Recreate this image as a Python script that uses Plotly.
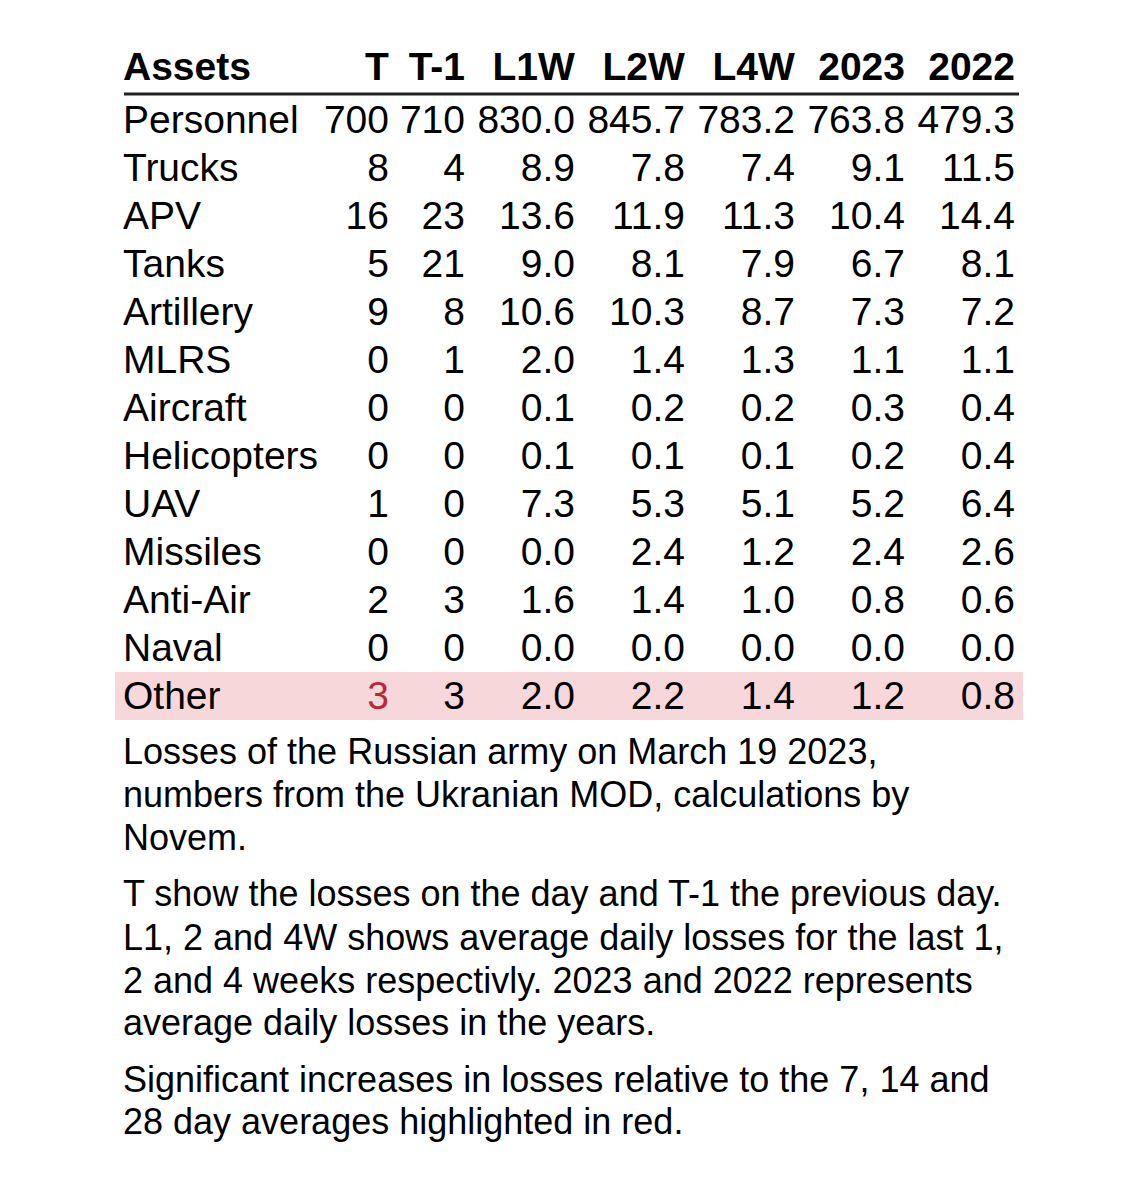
import plotly.graph_objects as go

# table data
assets = ["Personnel", "Trucks", "APV", "Tanks", "Artillery", "MLRS", "Aircraft",
          "Helicopters", "UAV", "Missiles", "Anti-Air", "Naval", "Other"]
t_day = [700, 8, 16, 5, 9, 0, 0, 0, 1, 0, 2, 0, 3]
t_prev = [710, 4, 23, 21, 8, 1, 0, 0, 0, 0, 3, 0, 3]
l1w = [830.0, 8.9, 13.6, 9.0, 10.6, 2.0, 0.1, 0.1, 7.3, 0.0, 1.6, 0.0, 2.0]
l2w = [845.7, 7.8, 11.9, 8.1, 10.3, 1.4, 0.2, 0.1, 5.3, 2.4, 1.4, 0.0, 2.2]
l4w = [783.2, 7.4, 11.3, 7.9, 8.7, 1.3, 0.2, 0.1, 5.1, 1.2, 1.0, 0.0, 1.4]
y2023 = [763.8, 9.1, 10.4, 6.7, 7.3, 1.1, 0.3, 0.2, 5.2, 2.4, 0.8, 0.0, 1.2]
y2022 = [479.3, 11.5, 14.4, 8.1, 7.2, 1.1, 0.4, 0.4, 6.4, 2.6, 0.6, 0.0, 0.8]
headers = ["Assets", "T", "T-1", "L1W", "L2W", "L4W", "2023", "2022"]

highlight_rows = ["Other"]
red_cells = [("Other", "T")]

caption = [
    "Losses of the Russian army on March 19 2023,",
    "numbers from the Ukranian MOD, calculations by",
    "Novem.",
    "T show the losses on the day and T-1 the previous day.",
    "L1, 2 and 4W shows average daily losses for the last 1,",
    "2 and 4 weeks respectivly. 2023 and 2022 represents",
    "average daily losses in the years.",
    "Significant increases in losses relative to the 7, 14 and",
    "28 day averages highlighted in red.",
]

W, H = 1140, 1182
FONT = "Liberation Sans, Arial, sans-serif"
PINK = "#f8d7da"
RED = "#b42b38"

columns = [assets, t_day, t_prev, l1w, l2w, l4w, y2023, y2022]
values = [assets, [str(v) for v in t_day], [str(v) for v in t_prev]]
values += [[f"{v:.1f}" for v in col] for col in columns[3:]]

fills, colors = [], []
for h in headers:
    fills.append([PINK if a in highlight_rows else "white" for a in assets])
    colors.append([RED if (a, h) in red_cells else "black" for a in assets])

# pixel column edges
edges = [107, 312, 389, 465, 575, 685, 795, 905, 1015]
widths = [edges[i + 1] - edges[i] for i in range(len(edges) - 1)]

fig = go.Figure(go.Table(
    domain=dict(x=[edges[0] / W, edges[-1] / W], y=[0, 1 - 29 / H]),
    columnwidth=widths,
    header=dict(
        values=[f"<b>{h}</b>" for h in headers],
        align=["left"] + ["right"] * 7,
        font=dict(family=FONT, size=39, color="black"),
        fill_color="white",
        line=dict(width=0, color="white"),
        height=50,
    ),
    cells=dict(
        values=values,
        align=["left"] + ["right"] * 7,
        font=dict(family=FONT, size=39, color=colors),
        fill_color=fills,
        line=dict(width=0, color="white"),
        height=48,
    ),
))

fig.add_shape(type="line", xref="paper", yref="paper",
              x0=116 / W, x1=1011 / W, y0=1 - 86 / H, y1=1 - 86 / H,
              line=dict(color="#222222", width=3))

line_y = [752, 795, 838, 894, 938, 981, 1023, 1080, 1122]
for text, y in zip(caption, line_y):
    fig.add_annotation(text=text, xref="paper", yref="paper",
                       x=113 / W, y=1 - (y - 9) / H, xanchor="left", yanchor="middle",
                       showarrow=False, font=dict(family=FONT, size=36, color="black"))

fig.update_layout(width=W, height=H, margin=dict(l=0, r=0, t=0, b=0),
                  paper_bgcolor="white", plot_bgcolor="white")
fig.write_html("out.html")
